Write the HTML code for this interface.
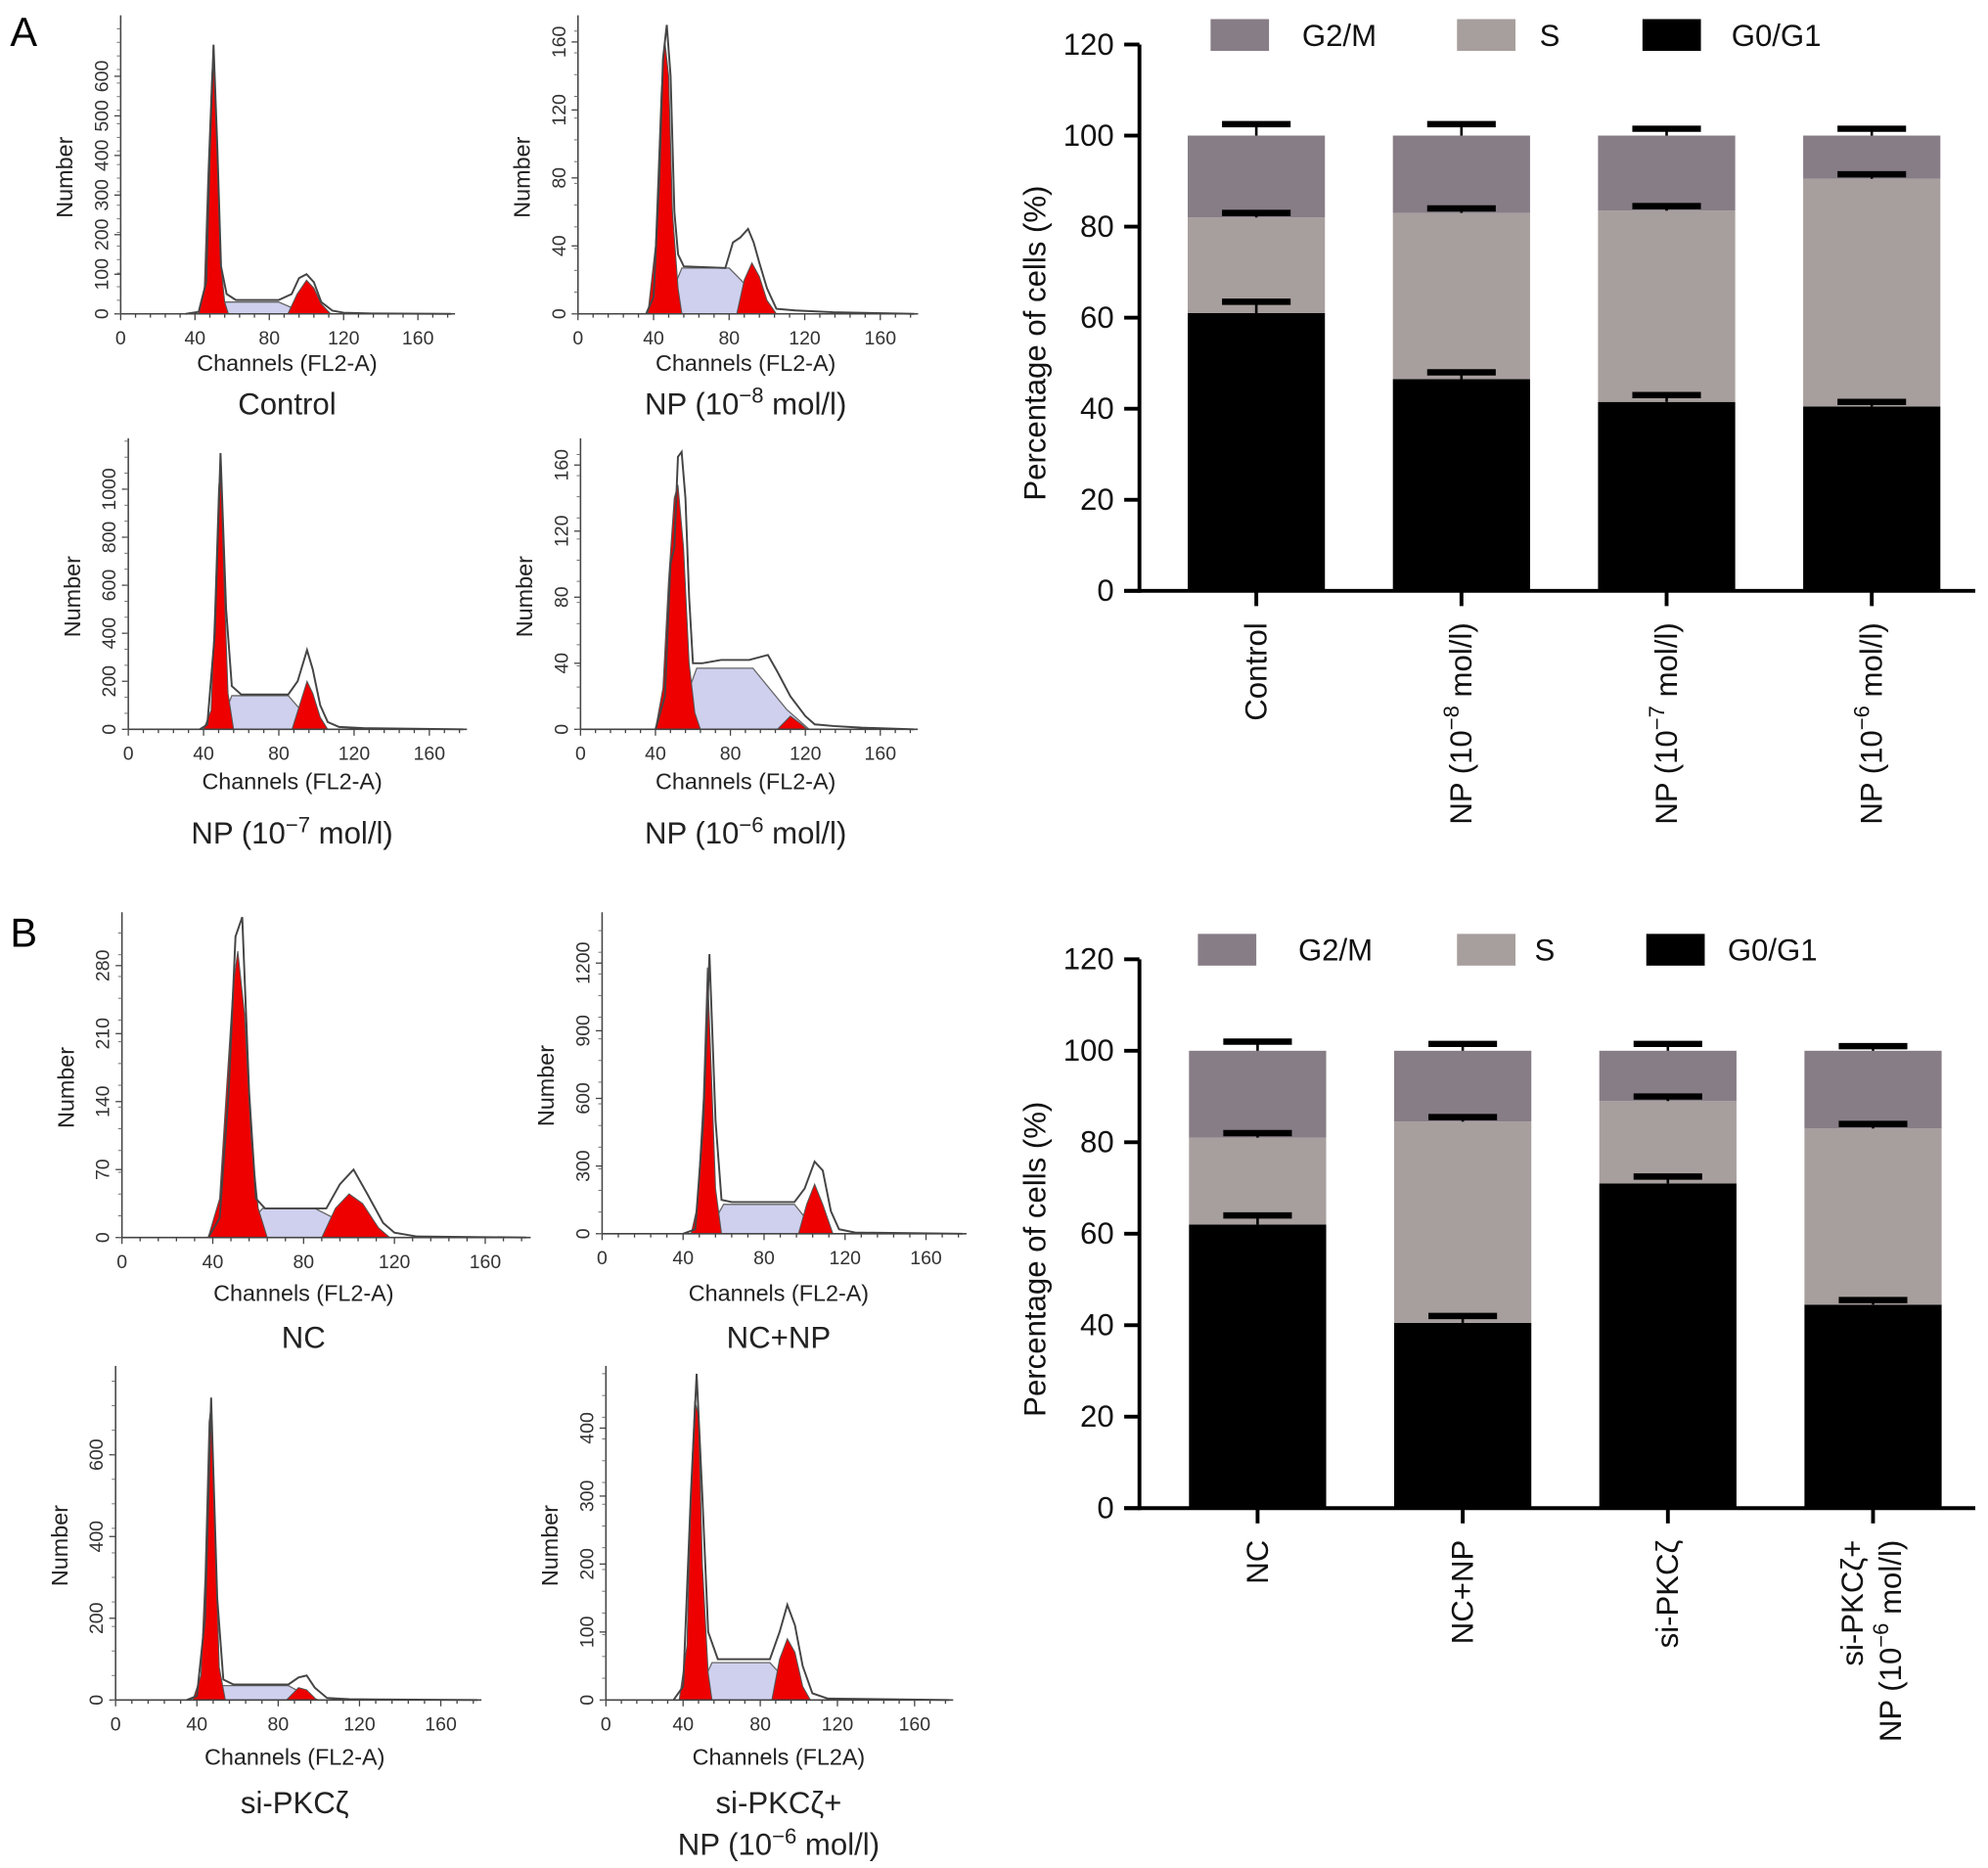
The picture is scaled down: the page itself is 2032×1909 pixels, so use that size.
<!DOCTYPE html>
<html><head><meta charset="utf-8"><style>
html,body{margin:0;padding:0;background:#fff;}
svg{display:block;font-family:"Liberation Sans","Noto Sans CJK SC",sans-serif;}
</style></head><body>
<svg id="fig" width="2032" height="1909" viewBox="0 0 1565 1470.2" xmlns="http://www.w3.org/2000/svg">
<rect width="1565" height="1471" fill="#fff"/>
<text x="8" y="36" font-size="32">A</text>
<text x="8" y="745" font-size="32">B</text>
<g id="hists"></g>
<g id="bars"></g>
</svg>
<script>
const NS='http://www.w3.org/2000/svg';
function mk(tag,attrs,parent){const e=document.createElementNS(NS,tag);for(const k in attrs)e.setAttribute(k,attrs[k]);parent.appendChild(e);return e;}

// ---------- Histogram data ----------
const histNames=['control','np-8','np-7','np-6','nc','nc-np','si-pkc','si-pkc-np'];
const histYTicks=[[0,100,200,300,400,500,600],[0,40,80,120,160],[0,200,400,600,800,1000],[0,40,80,120,160],[0,70,140,210,280],[0,300,600,900,1200],[0,200,400,600],[0,100,200,300,400]];
const histXTicks=[0,40,80,120,160];
const g1Data=[
[[42,0],[45,60],[47,350],[49,600],[50,660],[52,400],[54,120],[56,30],[58,0]],
[[37,0],[41,40],[44,130],[46,160],[48,140],[50,60],[53,15],[55,0]],
[[40,0],[44,80],[46,500],[48,1000],[49,1100],[51,600],[53,150],[56,0]],
[[40,0],[44,25],[47,90],[50,140],[52,148],[55,110],[58,40],[61,10],[64,0]],
[[38,0],[43,40],[46,150],[49,260],[51,295],[54,230],[57,100],[60,30],[64,0]],
[[44,0],[47,120],[50,600],[52,1180],[54,700],[56,200],[59,0]],
[[38,0],[42,60],[44,300],[46,680],[47,720],[49,400],[51,80],[54,0]],
[[38,0],[42,80],[44,300],[46,440],[48,420],[50,200],[53,40],[55,0]]];
const sData=[
[[50,0],[56,30],[85,30],[95,10],[100,0]],
[[45,0],[55,27],[80,27],[95,10],[103,0]],
[[48,0],[55,140],[85,140],[95,50],[100,0]],
[[50,0],[62,37],[92,37],[110,12],[122,0]],
[[50,0],[62,30],[85,30],[100,12],[110,0]],
[[52,0],[60,130],[95,130],[103,40],[108,0]],
[[46,0],[52,35],[85,35],[95,8],[100,0]],
[[46,0],[55,55],[85,55],[98,15],[105,0]]];
const g2Data=[
[[90,0],[95,50],[100,85],[104,65],[108,25],[113,0]],
[[84,0],[88,20],[92,30],[96,22],[100,8],[105,0]],
[[87,0],[91,100],[95,200],[98,150],[102,50],[106,0]],
[[105,0],[112,8],[118,3],[121,0]],
[[88,0],[94,30],[100,45],[106,35],[113,10],[118,0]],
[[97,0],[101,130],[105,220],[109,130],[114,0]],
[[84,0],[90,30],[94,25],[99,0]],
[[86,0],[90,60],[94,90],[98,70],[102,20],[106,0]]];
const outlineData=[
[[35,0],[42,5],[46,80],[48,420],[50,680],[52,420],[54,120],[57,50],[62,35],[85,35],[92,50],[96,90],[100,100],[104,80],[108,30],[114,8],[120,3],[135,1],[178,0]],
[[36,0],[40,10],[43,80],[45,150],[47,170],[49,140],[51,60],[53,35],[56,28],[78,27],[82,42],[86,45],[90,50],[93,42],[96,30],[100,15],[105,3],[115,2],[135,1],[178,0]],
[[38,0],[42,20],[46,400],[49,1150],[52,500],[55,180],[60,145],[85,145],[90,200],[95,330],[98,250],[102,100],[106,30],[112,10],[125,5],[178,0]],
[[40,0],[45,20],[48,100],[50,110],[52,165],[54,168],[56,140],[58,80],[60,40],[65,40],[75,42],[90,42],[100,45],[105,35],[112,20],[120,8],[125,3],[135,2],[150,1],[178,0]],
[[38,0],[43,20],[47,150],[50,310],[53,330],[56,150],[59,40],[63,30],[90,30],[96,55],[102,70],[108,45],[115,15],[120,5],[130,1],[178,0]],
[[40,0],[46,20],[50,500],[53,1240],[56,500],[59,150],[64,140],[95,140],[100,200],[105,320],[109,280],[113,100],[117,20],[125,5],[178,0]],
[[35,0],[40,10],[44,200],[47,740],[50,250],[53,50],[58,38],[85,38],[90,55],[94,60],[98,30],[104,5],[115,2],[178,0]],
[[35,0],[40,20],[44,300],[47,480],[50,300],[53,100],[58,60],[85,60],[90,100],[94,140],[98,110],[102,50],[107,10],[115,2],[178,0]]];
const histTitles=[['Control'],['NP (10','−8',' mol/l)'],['NP (10','−7',' mol/l)'],['NP (10','−6',' mol/l)'],['NC'],['NC+NP'],['si-PKCζ'],['si-PKCζ+']];
const histLayout=[
{x0:95,x160:329,y0:247,rv:600,rp:60,top:12,xl:292,ty:326,cx:226},
{x0:455,x160:693,y0:247,rv:160,rp:33,top:12,xl:292,ty:326,cx:587},
{x0:101,x160:338,y0:574,rv:1000,rp:385,top:345,xl:621,ty:664,cx:230},
{x0:457,x160:693,y0:574,rv:160,rp:366,top:345,xl:621,ty:664,cx:587},
{x0:96,x160:382,y0:974,rv:280,rp:760,top:718,xl:1024,ty:1061,cx:239},
{x0:474,x160:729,y0:971,rv:1200,rp:758,top:718,xl:1024,ty:1061,cx:613},
{x0:91,x160:347,y0:1338,rv:600,rp:1145,top:1075,xl:1389,ty:1427,cx:232},
{x0:477,x160:720,y0:1338,rv:400,rp:1124,top:1075,xl:1389,ty:1427,cx:613}];
const xLabelText=['Channels (FL2-A)','Channels (FL2-A)','Channels (FL2-A)','Channels (FL2-A)','Channels (FL2-A)','Channels (FL2-A)','Channels (FL2-A)','Channels (FL2A)'];

const H=document.getElementById('hists');
histNames.forEach((nm,i)=>{
  const L=histLayout[i];
  const g=mk('g',{},H);
  
  
  const xs=c=>L.x0+(L.x160-L.x0)*c/160;
  const ys=v=>L.y0-(L.y0-L.rp)*v/L.rv;
  const path=(pts,close)=>pts.map((p,k)=>(k?'L':'M')+xs(p[0]).toFixed(1)+','+ys(p[1]).toFixed(1)).join('')+(close?'Z':'');
  const s=mk('path',{d:path(sData[i],true),fill:'#cfd0ee',stroke:'#666','stroke-width':1},g);
  
  
  const a=mk('path',{d:path(g1Data[i],true),fill:'#ee0000',stroke:'#555','stroke-width':0.8},g);
  
  
  const b=mk('path',{d:path(g2Data[i],true),fill:'#ee0000',stroke:'#555','stroke-width':0.8},g);
  
  
  const o=mk('path',{d:path(outlineData[i],false),fill:'none',stroke:'#444','stroke-width':1.5},g);
  
  
  mk('line',{x1:L.x0,y1:L.y0,x2:xs(180),y2:L.y0,stroke:'#444','stroke-width':1.2},g);
  mk('line',{x1:L.x0,y1:L.y0,x2:L.x0,y2:L.top,stroke:'#444','stroke-width':1.2},g);
  for(let c=0;c<=176;c+=8){mk('line',{x1:xs(c),y1:L.y0,x2:xs(c),y2:L.y0+(c%40===0?5:3),stroke:'#444','stroke-width':1},g);}
  histXTicks.forEach(t=>{const tx=mk('text',{x:xs(t),y:L.y0+24,'font-size':15,'text-anchor':'middle',fill:'#333'},g);tx.textContent=t;});
  histYTicks[i].forEach(t=>{
    const y=ys(t);
    mk('line',{x1:L.x0-5,y1:y,x2:L.x0,y2:y,stroke:'#444','stroke-width':1},g);
    const tx=mk('text',{x:L.x0-10,y:y,'font-size':15,'text-anchor':'middle',fill:'#333',transform:`rotate(-90 ${L.x0-10} ${y})`},g);
    tx.textContent=t;
  });
  const minorStep=(L.y0-L.rp)/histYTicks[i].length/2.5;
  for(let y=L.y0;y>L.top;y-=minorStep){mk('line',{x1:L.x0-3,y1:y,x2:L.x0,y2:y,stroke:'#666','stroke-width':0.7},g);}
  const yl=mk('text',{x:L.x0-38,y:(L.y0+L.top)/2+10,'font-size':18,'text-anchor':'middle',fill:'#222',transform:`rotate(-90 ${L.x0-38} ${(L.y0+L.top)/2+10})`},g);
  yl.textContent='Number';
  
  
  const xl=mk('text',{x:L.cx,y:L.xl,'font-size':18,'text-anchor':'middle',fill:'#222'},g);
  xl.textContent=xLabelText[i];
  
  
  const t=mk('text',{x:L.cx,y:L.ty,'font-size':24,'text-anchor':'middle',fill:'#222'},g);
  
  
  const parts=histTitles[i];
  const t1=mk('tspan',{},t);t1.textContent=parts[0];
  if(parts.length>1){const t2=mk('tspan',{dy:-9,'font-size':17},t);t2.textContent=parts[1];const t3=mk('tspan',{dy:9},t);t3.textContent=parts[2];}
  if(i===7){const t4=mk('text',{x:L.cx,y:L.ty+33,'font-size':24,'text-anchor':'middle',fill:'#222'},g);
    const a1=mk('tspan',{},t4);a1.textContent='NP (10';const a2=mk('tspan',{dy:-9,'font-size':17},t4);a2.textContent='−6';const a3=mk('tspan',{dy:9},t4);a3.textContent=' mol/l)';}
});

// ---------- Bar chart data ----------
const barCatsA=[['Control'],['NP (10','−8',' mol/l)'],['NP (10','−7',' mol/l)'],['NP (10','−6',' mol/l)']];
const barCatsB=[['NC'],['NC+NP'],['si-PKCζ'],['si-PKCζ+','NP (10','−6',' mol/l)']];
const g0g1A=[61,46.5,41.5,40.5];
const sA=[21,36.5,42,50];
const g2mA=[18,17,16.5,9.5];
const g0g1B=[62,40.5,71,44.5];
const sB=[19,44,18,38.5];
const g2mB=[19,15.5,11,17];
const errA=[[2.5,1,2.5],[1.5,1,2.5],[1.5,1,1.5],[1,1,1.5]];
const errB=[[2,1,2],[1.5,1,1.5],[1.5,1,1.5],[1,1,1]];
const yTicksBar=[0,20,40,60,80,100,120];
const seriesNames=['G0/G1','S','G2/M'];
const seriesColors=['#000000','#a79f9d','#877d86'];

function barChart(cfg){
  const B=document.getElementById('bars');
  const g=mk('g',{},B);
  
  
  const ys=v=>cfg.y0-(cfg.y0-cfg.y120)*v/120;
  const step=161.5, bw=108;
  const xc=i=>cfg.firstC+i*step;
  const series=[cfg.g0,cfg.s,cfg.g2];
  cfg.cats.forEach((c,i)=>{
    let base=0;
    series.forEach((arr,k)=>{
      const r=mk('rect',{x:xc(i)-bw/2,y:ys(base+arr[i]),width:bw,height:ys(base)-ys(base+arr[i]),fill:seriesColors[k]},g);
      
      
      base+=arr[i];
    });
    base=0;
    series.forEach((arr,k)=>{
      base+=arr[i];
      const e=cfg.err[i][k];
      mk('line',{x1:xc(i),y1:ys(base),x2:xc(i),y2:ys(base+e),stroke:'#000','stroke-width':2},g);
      const cap=mk('line',{x1:xc(i)-27,y1:ys(base+e),x2:xc(i)+27,y2:ys(base+e),stroke:'#000','stroke-width':5},g);
      
      
    });
    mk('line',{x1:xc(i),y1:cfg.y0,x2:xc(i),y2:cfg.y0+12,stroke:'#000','stroke-width':3},g);
    const lines=[];
    if(c.length===1){lines.push([c[0]]);}
    else if(c.length===3){lines.push(c);}
    else {lines.push([c[0]]);lines.push([c[1],c[2],c[3]]);}
    lines.forEach((ln,li)=>{
      const lx=xc(i)+8+(lines.length>1?(li===0?-16:14):0), ly=cfg.y0+25;
      const t=mk('text',{x:lx,y:ly,'font-size':24,'text-anchor':'end',fill:'#111',transform:`rotate(-90 ${lx} ${ly})`},g);
      
      
      const a=mk('tspan',{},t);a.textContent=ln[0];
      if(ln.length>1){const b=mk('tspan',{dy:-10,'font-size':17},t);b.textContent=ln[1];const d=mk('tspan',{dy:10},t);d.textContent=ln[2];}
    });
  });
  mk('line',{x1:cfg.ax-12,y1:cfg.y0,x2:1555,y2:cfg.y0,stroke:'#000','stroke-width':3},g);
  mk('line',{x1:cfg.ax,y1:cfg.y0+1.5,x2:cfg.ax,y2:cfg.y120,stroke:'#000','stroke-width':3},g);
  yTicksBar.forEach(v=>{
    mk('line',{x1:cfg.ax-12,y1:ys(v),x2:cfg.ax,y2:ys(v),stroke:'#000','stroke-width':3},g);
    const t=mk('text',{x:cfg.ax-20,y:ys(v)+8,'font-size':24,'text-anchor':'end',fill:'#111'},g);
    t.textContent=v;
  });
  const my=(cfg.y0+cfg.y120)/2+20;
  const yt=mk('text',{x:cfg.ax-74,y:my,'font-size':24,'text-anchor':'middle',fill:'#111',transform:`rotate(-90 ${cfg.ax-74} ${my})`},g);
  yt.textContent='Percentage of cells (%)';
  
  
  cfg.legend.forEach((L,k)=>{
    const lg=mk('g',{},g);
    
    
    mk('rect',{x:L[0],y:cfg.ly,width:46,height:25,fill:seriesColors[2-k]},lg);
    const t=mk('text',{x:L[1],y:cfg.ly+21,'font-size':24,fill:'#111'},lg);
    t.textContent=seriesNames[2-k];
  });
}
barChart({name:'bar-chart-a',ax:897,y0:465,y120:35,firstC:989,cats:barCatsA,g0:g0g1A,s:sA,g2:g2mA,err:errA,ly:15,legend:[[953,1025],[1147,1212],[1293,1363]]});
barChart({name:'bar-chart-b',ax:897,y0:1187,y120:755,firstC:990,cats:barCatsB,g0:g0g1B,s:sB,g2:g2mB,err:errB,ly:735,legend:[[943,1022],[1147,1208],[1296,1360]]});
</script>
</body></html>
